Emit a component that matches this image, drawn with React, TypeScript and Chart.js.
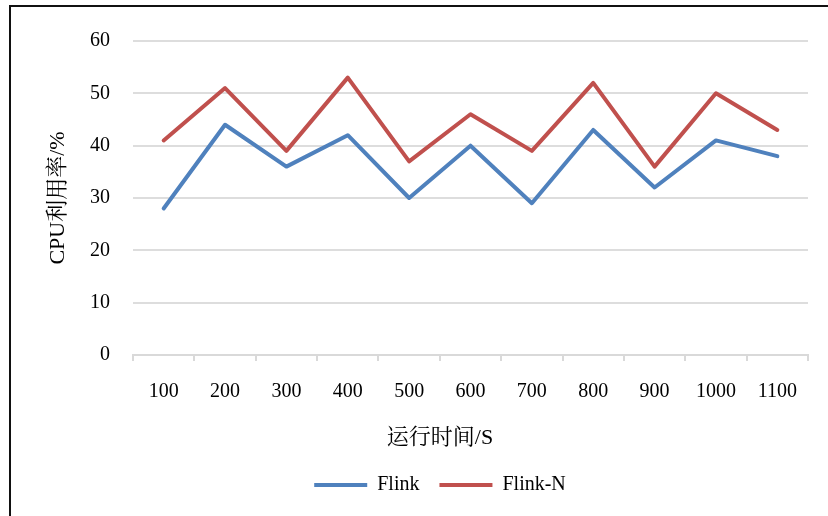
import React, { useEffect, useRef } from "react";
import { Chart, registerables } from "chart.js";

Chart.register(...registerables);

const categories = ["100", "200", "300", "400", "500", "600", "700", "800", "900", "1000", "1100"];
const flink = [28, 44, 36, 42, 30, 40, 29, 43, 32, 41, 38];
const flinkN = [41, 51, 39, 53, 37, 46, 39, 52, 36, 50, 43];
const seriesNames = ["Flink", "Flink-N"];
const xTitle = "运行时间/S";
const yTitle = "CPU利用率/%";

const FONT = '"Liberation Serif", "Times New Roman", "Noto Serif CJK SC", "Noto Sans CJK SC", serif';

export default function App() {
  const ref = useRef<HTMLCanvasElement | null>(null);
  useEffect(() => {
    if (!ref.current) return;
    const chart = new Chart(ref.current, {
      type: "line",
      data: {
        labels: categories,
        datasets: [
          {
            label: seriesNames[0],
            data: flink,
            borderColor: "#4F81BD",
            backgroundColor: "#4F81BD",
            borderWidth: 4,
            pointRadius: 0,
            tension: 0,
            borderJoinStyle: "round",
            borderCapStyle: "round",
          },
          {
            label: seriesNames[1],
            data: flinkN,
            borderColor: "#C0504D",
            backgroundColor: "#C0504D",
            borderWidth: 4,
            pointRadius: 0,
            tension: 0,
            borderJoinStyle: "round",
            borderCapStyle: "round",
          },
        ],
      },
      options: {
        animation: false,
        responsive: false,
        maintainAspectRatio: false,
        layout: { padding: { left: 72, right: 20, top: 41, bottom: 11 } },
        plugins: {
          tooltip: { enabled: false },
          title: {
            display: true,
            text: xTitle,
            position: "bottom",
            weight: 500,
            color: "#000",
            font: { family: FONT, size: 22, weight: "normal" },
            padding: { top: 10, bottom: 3.8 },
          },
          legend: {
            display: true,
            position: "bottom",
            weight: 1000,
            labels: {
              color: "#000",
              font: { family: FONT, size: 20 },
              boxWidth: 53,
              boxHeight: 4,
              padding: 20,
              generateLabels: (c: any) =>
                Chart.defaults.plugins.legend.labels
                  .generateLabels(c)
                  .map((l: any) => ({ ...l, lineWidth: 0, fillStyle: l.strokeStyle })),
            },
          },
        },
        scales: {
          x: {
            offset: true,
            afterFit: (s: any) => {
              s.height = 59.8;
            },
            border: { display: true, color: "#d9d9d9", width: 2 },
            grid: {
              offset: true,
              drawOnChartArea: false,
              drawTicks: true,
              tickLength: 6,
              color: "#d9d9d9",
              lineWidth: 2,
            },
            ticks: {
              color: "#000",
              font: { family: FONT, size: 20 },
              padding: 19,
              maxRotation: 0,
              autoSkip: false,
            },
          },
          y: {
            min: 0,
            max: 60,
            afterFit: (s: any) => {
              s.width = 61;
            },
            border: { display: false },
            grid: { drawTicks: false, color: "#dddddd", lineWidth: 2 },
            ticks: {
              stepSize: 10,
              color: "#000",
              font: { family: FONT, size: 20 },
              padding: 23,
            },
            title: {
              display: true,
              text: yTitle,
              color: "#000",
              font: { family: FONT, size: 22 },
              padding: { top: -27.2, bottom: 0 },
            },
          },
        },
      },
    } as any);
    return () => chart.destroy();
  }, []);

  return (
    <div
      style={{
        position: "absolute",
        left: 0,
        top: 0,
        width: 828,
        height: 516,
        overflow: "hidden",
        background: "#fff",
      }}
    >
      <canvas ref={ref} width={828} height={516} style={{ position: "absolute", left: 0, top: 0 }} />
      <div
        style={{
          position: "absolute",
          left: 9,
          top: 5,
          width: 900,
          height: 600,
          borderLeft: "2px solid #111",
          borderTop: "2px solid #111",
          pointerEvents: "none",
        }}
      />
    </div>
  );
}
